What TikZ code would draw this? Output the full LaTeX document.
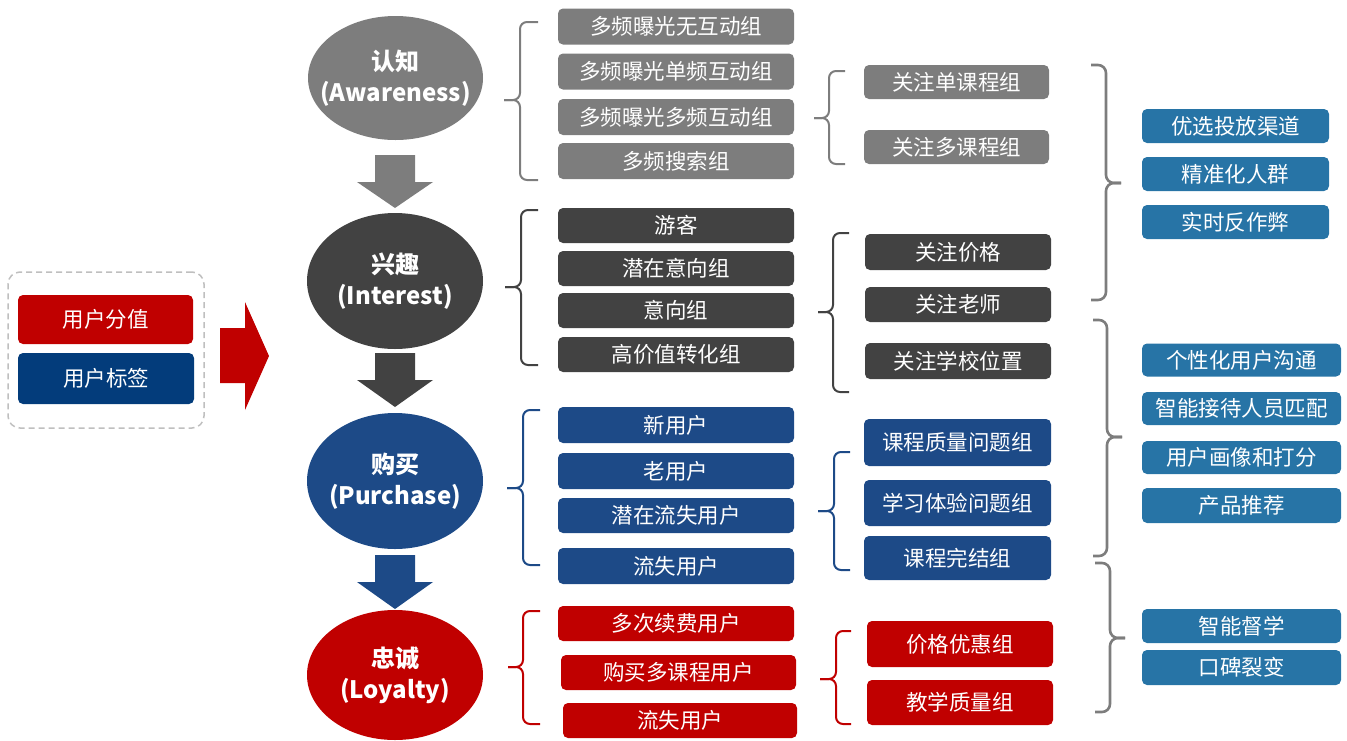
\documentclass[tikz,border=0pt]{standalone}
\usepackage{fontspec}
\setmainfont{Noto Sans CJK SC}
\usetikzlibrary{shapes.geometric}
\definecolor{cgray}{HTML}{7D7D7D}
\definecolor{cdark}{HTML}{424242}
\definecolor{cnavy}{HTML}{1D4A87}
\definecolor{cnavyd}{HTML}{033C7B}
\definecolor{cred}{HTML}{C00000}
\definecolor{csteel}{HTML}{2774A6}
\definecolor{cdash}{HTML}{BFBFBF}
% rounded box: name, centre x, centre y, width, height, fill, text
\newcommand\bx[7]{\node[box,fill=#6,minimum width=#4pt,minimum height=#5pt] (#1) at (#2,#3) {#7};}
% opening bracket: colour, tip x, stem x, end x, top y, mid y, bottom y
\newcommand\leftbrk[7]{%
  \draw[brk,#1] (#4,#5) -- (#3,#5) -- (#3,#6) -- (#2,#6);
  \draw[brk,#1] (#4,#7) -- (#3,#7) -- (#3,#6) -- (#2,#6);}
% closing bracket: end x, stem x, tip x, top y, mid y, bottom y
\newcommand\rightbrk[6]{%
  \draw[gbrk] (#1,#4) -- (#2,#4) -- (#2,#5) -- (#3,#5);
  \draw[gbrk] (#1,#6) -- (#2,#6) -- (#2,#5) -- (#3,#5);}
\begin{document}
\begin{tikzpicture}[x=1pt,y=-1pt,
  box/.style={rounded corners=5pt,text=white,inner sep=0pt,font=\fontsize{21.5}{24}\selectfont},
  stage/.style={ellipse,inner sep=0pt},
  stagetext/.style={text=white,align=center,inner sep=0pt,font=\fontsize{24}{31}\selectfont\bfseries},
  brk/.style={line width=2pt,rounded corners=7pt},
  gbrk/.style={line width=2.6pt,rounded corners=8pt,cgray}]
\useasboundingbox (0,0) rectangle (1347,740);

% source group on the left
\node[draw=cdash,line width=1.5pt,dash pattern=on 6pt off 4pt,rounded corners=12pt,
      minimum width=196pt,minimum height=156pt] (grp) at (106,350) {};
\bx{score}{105.5}{319.5}{175}{49}{cred}{用户分值}
\bx{tag}{106}{378.5}{176}{51}{cnavyd}{用户标签}
\fill[cred] (220,328) -- (245,328) -- (245,302) -- (269,356) -- (245,410) -- (245,383) -- (220,383) -- cycle;

% funnel stages
\node[stage,fill=cgray,minimum width=175pt,minimum height=124pt] (aw) at (395.5,78) {};
\node[stagetext] (awt) at (aw) {认知\\(Awareness)};
\node[stage,fill=cdark,minimum width=176pt,minimum height=136pt] (in) at (395,281) {};
\node[stagetext] (int) at (in) {兴趣\\(Interest)};
\node[stage,fill=cnavy,minimum width=176pt,minimum height=136pt] (pu) at (395,481) {};
\node[stagetext] (put) at (pu) {购买\\(Purchase)};
\node[stage,fill=cred,minimum width=176pt,minimum height=130pt] (lo) at (395,675) {};
\node[stagetext] (lot) at (lo) {忠诚\\(Loyalty)};

\fill[cgray] (375,155) -- (415,155) -- (415,182) -- (433,182) -- (395,208) -- (357,182) -- (375,182) -- cycle;
\fill[cdark] (375,353) -- (415,353) -- (415,380) -- (433,380) -- (395,407) -- (357,380) -- (375,380) -- cycle;
\fill[cnavy] (375,555) -- (415,555) -- (415,582) -- (433,582) -- (395,609) -- (357,582) -- (375,582) -- cycle;

% first-level groups
\bx{g1}{676}{26.5}{236}{36}{cgray}{多频曝光无互动组}
\bx{g2}{676}{71.5}{236}{36}{cgray}{多频曝光单频互动组}
\bx{g3}{676}{117}{236}{36}{cgray}{多频曝光多频互动组}
\bx{g4}{676}{161}{236}{36}{cgray}{多频搜索组}

\bx{d1}{676}{225.5}{236}{35}{cdark}{游客}
\bx{d2}{676}{268.5}{236}{35}{cdark}{潜在意向组}
\bx{d3}{676}{310.5}{236}{35}{cdark}{意向组}
\bx{d4}{676}{354.5}{236}{35}{cdark}{高价值转化组}

\bx{b1}{676}{425}{236}{36}{cnavy}{新用户}
\bx{b2}{676}{471}{236}{36}{cnavy}{老用户}
\bx{b3}{676}{515.5}{236}{35}{cnavy}{潜在流失用户}
\bx{b4}{676}{566}{236}{36}{cnavy}{流失用户}

\bx{r1}{676}{623.5}{236}{35}{cred}{多次续费用户}
\bx{r2}{678.5}{672.5}{235}{35}{cred}{购买多课程用户}
\bx{r3}{680}{720.5}{234}{35}{cred}{流失用户}

\leftbrk{cgray}{504}{520}{538}{22}{100}{180}
\leftbrk{cdark}{505}{521}{538}{210}{287}{365}
\leftbrk{cnavy}{507}{523}{540}{410}{488}{565}
\leftbrk{cred}{508}{523}{540}{611}{667}{724}

% second-level groups
\bx{g5}{956.5}{82}{185}{34}{cgray}{关注单课程组}
\bx{g6}{956.5}{147}{185}{34}{cgray}{关注多课程组}

\bx{d5}{958}{252}{186}{36}{cdark}{关注价格}
\bx{d6}{958}{304.5}{186}{35}{cdark}{关注老师}
\bx{d7}{958}{361}{186}{36}{cdark}{关注学校位置}

\bx{b5}{957.5}{442.5}{187}{47}{cnavy}{课程质量问题组}
\bx{b6}{957.5}{503}{187}{46}{cnavy}{学习体验问题组}
\bx{b7}{957.5}{558}{187}{44}{cnavy}{课程完结组}

\bx{r4}{960}{644}{186}{46}{cred}{价格优惠组}
\bx{r5}{960}{702.5}{186}{45}{cred}{教学质量组}

\leftbrk{cgray}{814}{829}{845}{71}{118}{164}
\leftbrk{cdark}{818}{833}{849}{233}{312}{392}
\leftbrk{cnavy}{818}{834}{850}{452}{511}{570}
\leftbrk{cred}{820}{836}{851}{631}{679}{724}

% operations
\rightbrk{1091}{1106}{1121}{65}{183}{300}
\rightbrk{1093}{1107}{1122}{320}{437}{556}
\rightbrk{1095}{1110}{1125}{563}{638}{712}

\bx{s1}{1235.5}{126}{187}{34}{csteel}{优选投放渠道}
\bx{s2}{1235.5}{174}{187}{34}{csteel}{精准化人群}
\bx{s3}{1235.5}{222}{187}{34}{csteel}{实时反作弊}

\bx{s4}{1241.5}{360}{199}{33}{csteel}{个性化用户沟通}
\bx{s5}{1241.5}{408.5}{199}{33}{csteel}{智能接待人员匹配}
\bx{s6}{1241.5}{457.5}{199}{33}{csteel}{用户画像和打分}
\bx{s7}{1241.5}{505.5}{199}{35}{csteel}{产品推荐}

\bx{s8}{1241.5}{626}{199}{34}{csteel}{智能督学}
\bx{s9}{1241.5}{667.5}{199}{35}{csteel}{口碑裂变}
\end{tikzpicture}
\end{document}
